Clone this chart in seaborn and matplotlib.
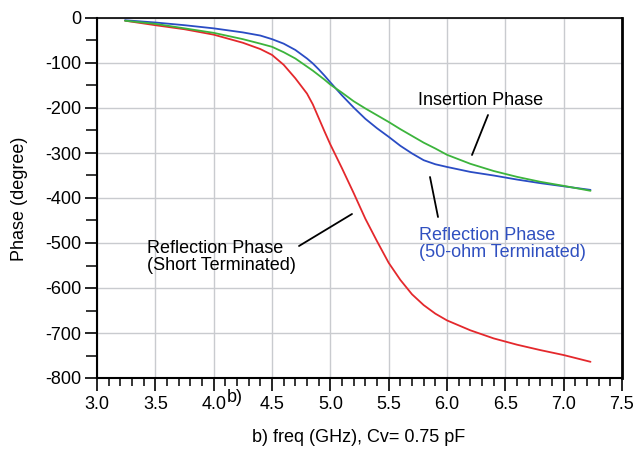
import matplotlib
matplotlib.use("Agg")
import matplotlib.pyplot as plt
from matplotlib.ticker import MultipleLocator
import seaborn as sns
import pandas as pd

# ---- data ----
freq = [3.24, 3.5, 3.75, 4.0, 4.25, 4.4, 4.5, 4.6, 4.7, 4.8, 4.85, 4.9, 4.95, 5.0,
        5.1, 5.2, 5.3, 5.4, 5.5, 5.6, 5.7, 5.8, 5.9, 6.0, 6.2, 6.4, 6.6, 6.8, 7.0,
        7.23]
refl_short = [-6, -16, -25, -37, -55, -69, -82, -104, -134, -168, -192, -222, -252,
              -281, -334, -389, -446, -496, -544, -582, -614, -638, -657, -672, -694,
              -712, -726, -738, -749, -764]
refl_50 = [-5, -10, -16, -23, -32, -39, -47, -57, -71, -90, -101, -114, -128, -143,
           -172, -199, -224, -245, -264, -284, -301, -316, -325, -331, -342, -350,
           -359, -367, -374, -382]
insertion = [-6, -13, -23, -33, -47, -57, -64, -76, -90, -108, -117, -127, -137,
             -148, -166, -185, -201, -216, -231, -247, -262, -277, -290, -304, -324,
             -340, -353, -364, -373, -384]

series_names = ["Reflection Phase (Short Terminated)",
                "Reflection Phase (50-ohm Terminated)",
                "Insertion Phase"]
x_ticks = [3.0, 3.5, 4.0, 4.5, 5.0, 5.5, 6.0, 6.5, 7.0, 7.5]
y_ticks = [0, -100, -200, -300, -400, -500, -600, -700, -800]

df = pd.DataFrame({
    "freq": freq * 3,
    "phase": refl_short + refl_50 + insertion,
    "series": [series_names[0]] * len(freq) + [series_names[1]] * len(freq)
              + [series_names[2]] * len(freq),
})

sns.set_style("ticks")
plt.rcParams["font.family"] = ["Liberation Sans", "DejaVu Sans"]
for k in ["text.color", "axes.labelcolor", "xtick.color", "ytick.color",
          "xtick.labelcolor", "ytick.labelcolor"]:
    plt.rcParams[k] = "black"

fig = plt.figure(figsize=(6.34, 4.5), dpi=100)
ax = fig.add_axes([97 / 634, 1 - 378 / 450, (622 - 97) / 634, (378 - 18) / 450])

palette = {series_names[0]: "#e4282c",
           series_names[1]: "#2a4cc4",
           series_names[2]: "#3cb43c"}
sns.lineplot(data=df, x="freq", y="phase", hue="series", palette=palette,
             linewidth=1.3, legend=False, ax=ax, sort=True, estimator=None)

ax.set_xlim(3.0, 7.5)
ax.set_ylim(-800, 0)
ax.set_xticks(x_ticks)
ax.set_xticklabels(["%.1f" % v for v in x_ticks])
ax.set_yticks(y_ticks)
ax.set_yticklabels([str(v) for v in y_ticks])
ax.xaxis.set_minor_locator(MultipleLocator(0.1))
ax.yaxis.set_minor_locator(MultipleLocator(50))
ax.grid(True, which="major", color="#c9cbcf", linewidth=1.0)
ax.set_axisbelow(True)

ax.tick_params(axis="both", which="major", labelsize=13, colors="black",
               length=9, width=1.2, direction="out")
ax.tick_params(axis="x", which="major", pad=4)
ax.tick_params(axis="y", which="major", pad=2)
ax.tick_params(axis="x", which="minor", length=6, width=1.1, color="black",
               direction="out")
ax.tick_params(axis="y", which="minor", length=8, width=1.1, color="black",
               direction="out")

for side, lw in [("left", 1.5), ("bottom", 1.5), ("top", 1.2), ("right", 2.0)]:
    ax.spines[side].set_visible(True)
    ax.spines[side].set_color("black")
    ax.spines[side].set_linewidth(lw)

ax.set_xlabel("")
ax.set_ylabel("")

fig.text(359 / 634, 1 - 437 / 450, "b) freq (GHz), Cv= 0.75 pF", ha="center",
         va="center", fontsize=13)
fig.text(20 / 634, 1 - 199 / 450, "Phase (degree)", ha="center", va="center",
         rotation=90, fontsize=13)
fig.text(235 / 634, 1 - 397 / 450, "b)", ha="center", va="center", fontsize=13)

def px_to_data(px, py):
    return 3.0 + (px - 97) / (525 / 4.5), -(py - 18) / (360 / 800)

# annotations
tx, ty = px_to_data(418, 101)
ax.text(tx, ty, "Insertion Phase", ha="left", va="center", fontsize=13,
        color="black")
ax.plot(*zip(px_to_data(488, 115), px_to_data(472, 155)), color="black", lw=1.3)

tx, ty = px_to_data(419, 244)
ax.text(tx, ty, "Reflection Phase\n(50-ohm Terminated)", ha="left", va="center",
        fontsize=13, color="#3050c0", linespacing=1.05)
ax.plot(*zip(px_to_data(430, 177), px_to_data(438, 217)), color="black", lw=1.3)

tx, ty = px_to_data(147, 257)
ax.text(tx, ty, "Reflection Phase\n(Short Terminated)", ha="left", va="center",
        fontsize=13, color="black", linespacing=1.05)
ax.plot(*zip(px_to_data(352, 214), px_to_data(299, 246)), color="black", lw=1.3)

fig.savefig("out.png", dpi=100, facecolor="white")
